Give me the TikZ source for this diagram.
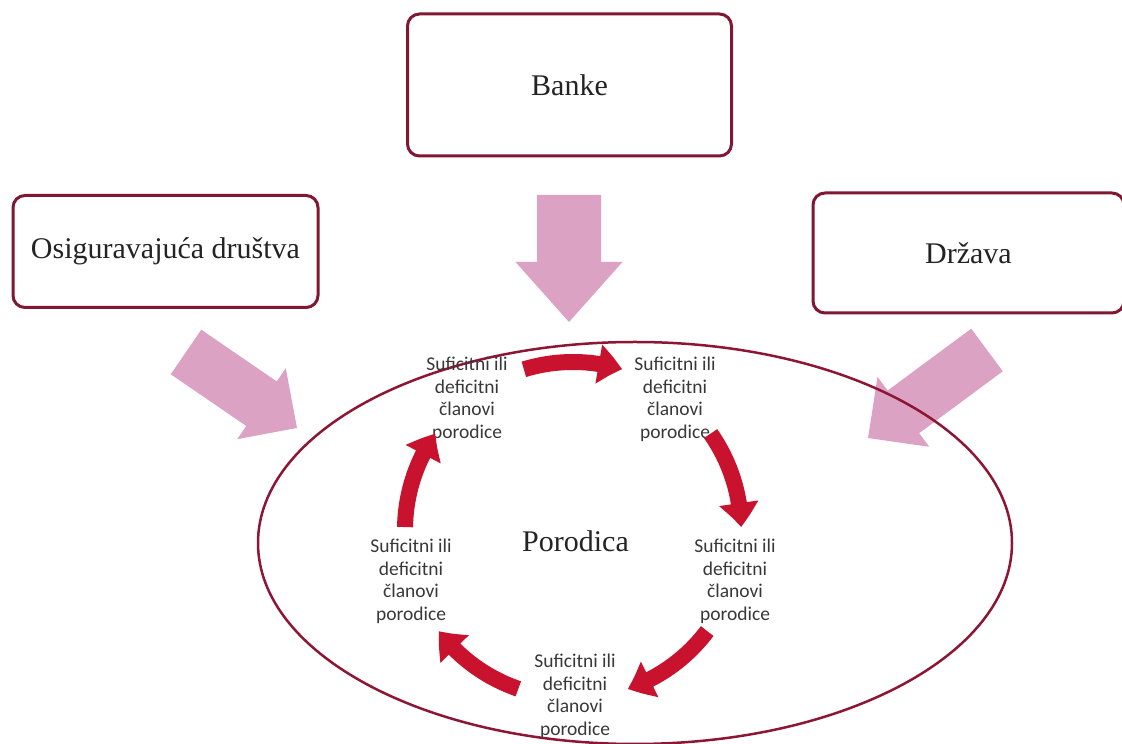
\documentclass[tikz,border=0pt]{standalone}
\usepackage{fontspec}
\setmainfont{Liberation Serif}
\newfontfamily\calib{Carlito}
\usetikzlibrary{arrows.meta,bending,calc}
\definecolor{boxred}{RGB}{128,24,52}
\definecolor{ellred}{RGB}{140,22,52}
\definecolor{pinkarr}{RGB}{220,162,196}
\definecolor{cyclered}{RGB}{200,18,46}
\definecolor{txt}{RGB}{35,35,35}
\newcommand\pinkarrow[7]{% x y angle L s H h
  \begin{scope}[shift={(#1,#2)},rotate=#3]
    \fill[pinkarr] (0,-#5/2) -- (#4-#7,-#5/2) -- (#4-#7,-#6/2) -- (#4,0)
      -- (#4-#7,#6/2) -- (#4-#7,#5/2) -- (0,#5/2) -- cycle;
  \end{scope}}
\begin{document}
\begin{tikzpicture}[x=1pt,y=1pt,
  bigbox/.style={draw=boxred, line width=3pt, rounded corners=12pt, fill=white,
    font=\fontsize{30}{36}\selectfont, text=txt, inner sep=0pt},
  member/.style={font=\calib\fontsize{19.5}{22.5}\selectfont, align=center,
    inner sep=0pt, text=black!78},
  cyc/.style={draw=cyclered, line width=16pt, -{Triangle[width=38pt,length=24pt,bend]}},
]
\useasboundingbox (0,0) rectangle (1122,744);
\clip (0,0) rectangle (1122,744);

% boxes
\node[bigbox, minimum width=324pt, minimum height=142pt] (banke) at (569.5,659) {Banke};
\node[bigbox, minimum width=305pt, minimum height=112pt] (osig) at (165.5,492.5) {Osiguravajuća društva};
\node[bigbox, minimum width=311pt, minimum height=120pt] (drzava) at (968.5,491) {Država};

% pink arrows
\pinkarrow{569}{549}{-90}{127}{64}{107}{60}
\pinkarrow{186}{392}{-34.4}{134.5}{54}{86}{43}
\pinkarrow{987}{394}{216.5}{148}{53}{87}{44}

% family ellipse
\draw[ellred, line width=2.5pt] (635,201) ellipse [x radius=377, y radius=201];

% members
\node[member] (m1) at (467,344.5) {Suficitni ili\\deficitni\\članovi\\porodice};
\node[member] (m2) at (675,344.5) {Suficitni ili\\deficitni\\članovi\\porodice};
\node[member] (m3) at (735,162.5) {Suficitni ili\\deficitni\\članovi\\porodice};
\node[member] (m4) at (575,47.5) {Suficitni ili\\deficitni\\članovi\\porodice};
\node[member] (m5) at (411,162.5) {Suficitni ili\\deficitni\\članovi\\porodice};

\node[font=\fontsize{30}{36}\selectfont, text=txt, anchor=base, inner sep=0pt] (por) at (575.5,192) {Porodica};

% cycle arrows
\coordinate (c) at (573,214);
\foreach \m in {90,18,-54,-126,162}
  \draw[cyc] ($(c)+(\m+17:168)$) arc[start angle=\m+17, end angle=\m-17, radius=168];
\end{tikzpicture}
\end{document}
